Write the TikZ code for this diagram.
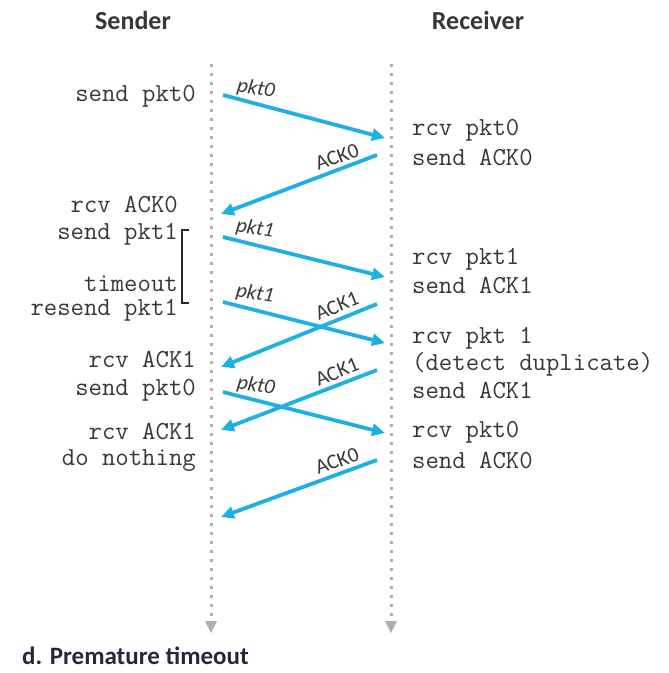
\documentclass[tikz,border=0pt]{standalone}
\usepackage{fontspec}
\setmainfont{Carlito}
\usetikzlibrary{arrows.meta}
\definecolor{pktblue}{RGB}{30,175,228}
\definecolor{linegray}{RGB}{175,175,175}
\definecolor{capcol}{RGB}{45,35,60}
\definecolor{txt}{RGB}{55,55,55}
\tikzset{
  msg/.style={draw=pktblue,line width=3.8pt,-{Triangle[length=13pt,width=12pt]}},
  life/.style={draw=linegray,line width=3pt,dash pattern=on 3pt off 6pt},
  lifeend/.style={fill=linegray,draw=none},
  evtL/.style={anchor=east,font=\fontsize{26}{28}\selectfont\ttfamily,inner sep=0pt,text=txt},
  evtR/.style={anchor=west,font=\fontsize{26}{28}\selectfont\ttfamily,inner sep=0pt,text=txt},
  head/.style={font=\fontsize{26}{28}\selectfont\bfseries,inner sep=0pt,text=txt},
  plab/.style={font=\fontsize{21}{23}\selectfont\itshape,inner sep=0pt,text=txt},
  alab/.style={font=\fontsize{21}{23}\selectfont,inner sep=0pt,text=txt},
}
\begin{document}
\begin{tikzpicture}[x=1pt,y=-1pt]
\useasboundingbox (0,0) rectangle (669,673);
% headers
\node[head] (hs) at (133,20) {Sender};
\node[head] (hr) at (478,20) {Receiver};
% lifelines
\coordinate (st) at (211,64);
\coordinate (sb) at (211,616);
\coordinate (rt) at (391,64);
\coordinate (rb) at (391,616);
\draw[life] (st) -- (sb);
\draw[life] (rt) -- (rb);
\fill[lifeend] (205,621) -- (217,621) -- (211,633) -- cycle;
\fill[lifeend] (385,621) -- (397,621) -- (391,633) -- cycle;
% arrow end points
\coordinate (a1) at (223,95);  \coordinate (b1) at (385,138);
\coordinate (a2) at (377,155); \coordinate (b2) at (221,214);
\coordinate (a3) at (223,237); \coordinate (b3) at (385,277);
\coordinate (a4) at (223,302); \coordinate (b4) at (385,343);
\coordinate (a5) at (377,304); \coordinate (b5) at (221,367);
\coordinate (a6) at (377,370); \coordinate (b6) at (221,430);
\coordinate (a7) at (223,392); \coordinate (b7) at (385,433);
\coordinate (a8) at (377,460); \coordinate (b8) at (221,517);
\draw[msg] (a1) -- (b1);
\draw[msg] (a2) -- (b2);
\draw[msg] (a3) -- (b3);
\draw[msg] (a4) -- (b4);
\draw[msg] (a5) -- (b5);
\draw[msg] (a6) -- (b6);
\draw[msg] (a7) -- (b7);
\draw[msg] (a8) -- (b8);
% labels on arrows
\node[plab,rotate=-10] (l1) at (256,89) {pkt0};
\node[alab,rotate=20] (l2) at (337,157) {ACK0};
\node[plab,rotate=-10] (l3) at (255,229) {pkt1};
\node[plab,rotate=-10] (l4) at (255,294) {pkt1};
\node[alab,rotate=22] (l5) at (337,306) {ACK1};
\node[alab,rotate=22] (l6) at (337,372) {ACK1};
\node[plab,rotate=-10] (l7) at (256,386) {pkt0};
\node[alab,rotate=20] (l8) at (337,461) {ACK0};
% sender events
\node[evtL] (e1) at (196,96) {send pkt0};
\node[evtL] (e2) at (178,205) {rcv ACK0};
\node[evtL] (e3) at (178,234) {send pkt1};
\node[evtL] (e4) at (178,284) {timeout};
\node[evtL] (e5) at (178,310) {resend pkt1};
\node[evtL] (e6) at (196,360) {rcv ACK1};
\node[evtL] (e7) at (196,390) {send pkt0};
\node[evtL] (e8) at (196,432) {rcv ACK1};
\node[evtL] (e9) at (196,461) {do nothing};
% receiver events
\node[evtR] (r1) at (412,130) {rcv pkt0};
\node[evtR] (r2) at (412,158) {send ACK0};
\node[evtR] (r3) at (412,259) {rcv pkt1};
\node[evtR] (r4) at (412,286) {send ACK1};
\node[evtR] (r5) at (412,338) {rcv pkt 1};
\node[evtR] (r6) at (412,364) {(detect duplicate)};
\node[evtR] (r7) at (412,391) {send ACK1};
\node[evtR] (r8) at (412,432) {rcv pkt0};
\node[evtR] (r9) at (412,461) {send ACK0};
% timeout bracket
\coordinate (k1) at (189,230);
\coordinate (k2) at (182,230);
\coordinate (k3) at (182,303);
\coordinate (k4) at (189,303);
\draw[black!85,line width=1.6pt] (k1) -- (k2) -- (k3) -- (k4);
% caption
\node[head,anchor=west,text=capcol,font=\fontsize{25}{27}\selectfont\bfseries] (cap) at (22,656) {d. Premature timeout};
\end{tikzpicture}
\end{document}
